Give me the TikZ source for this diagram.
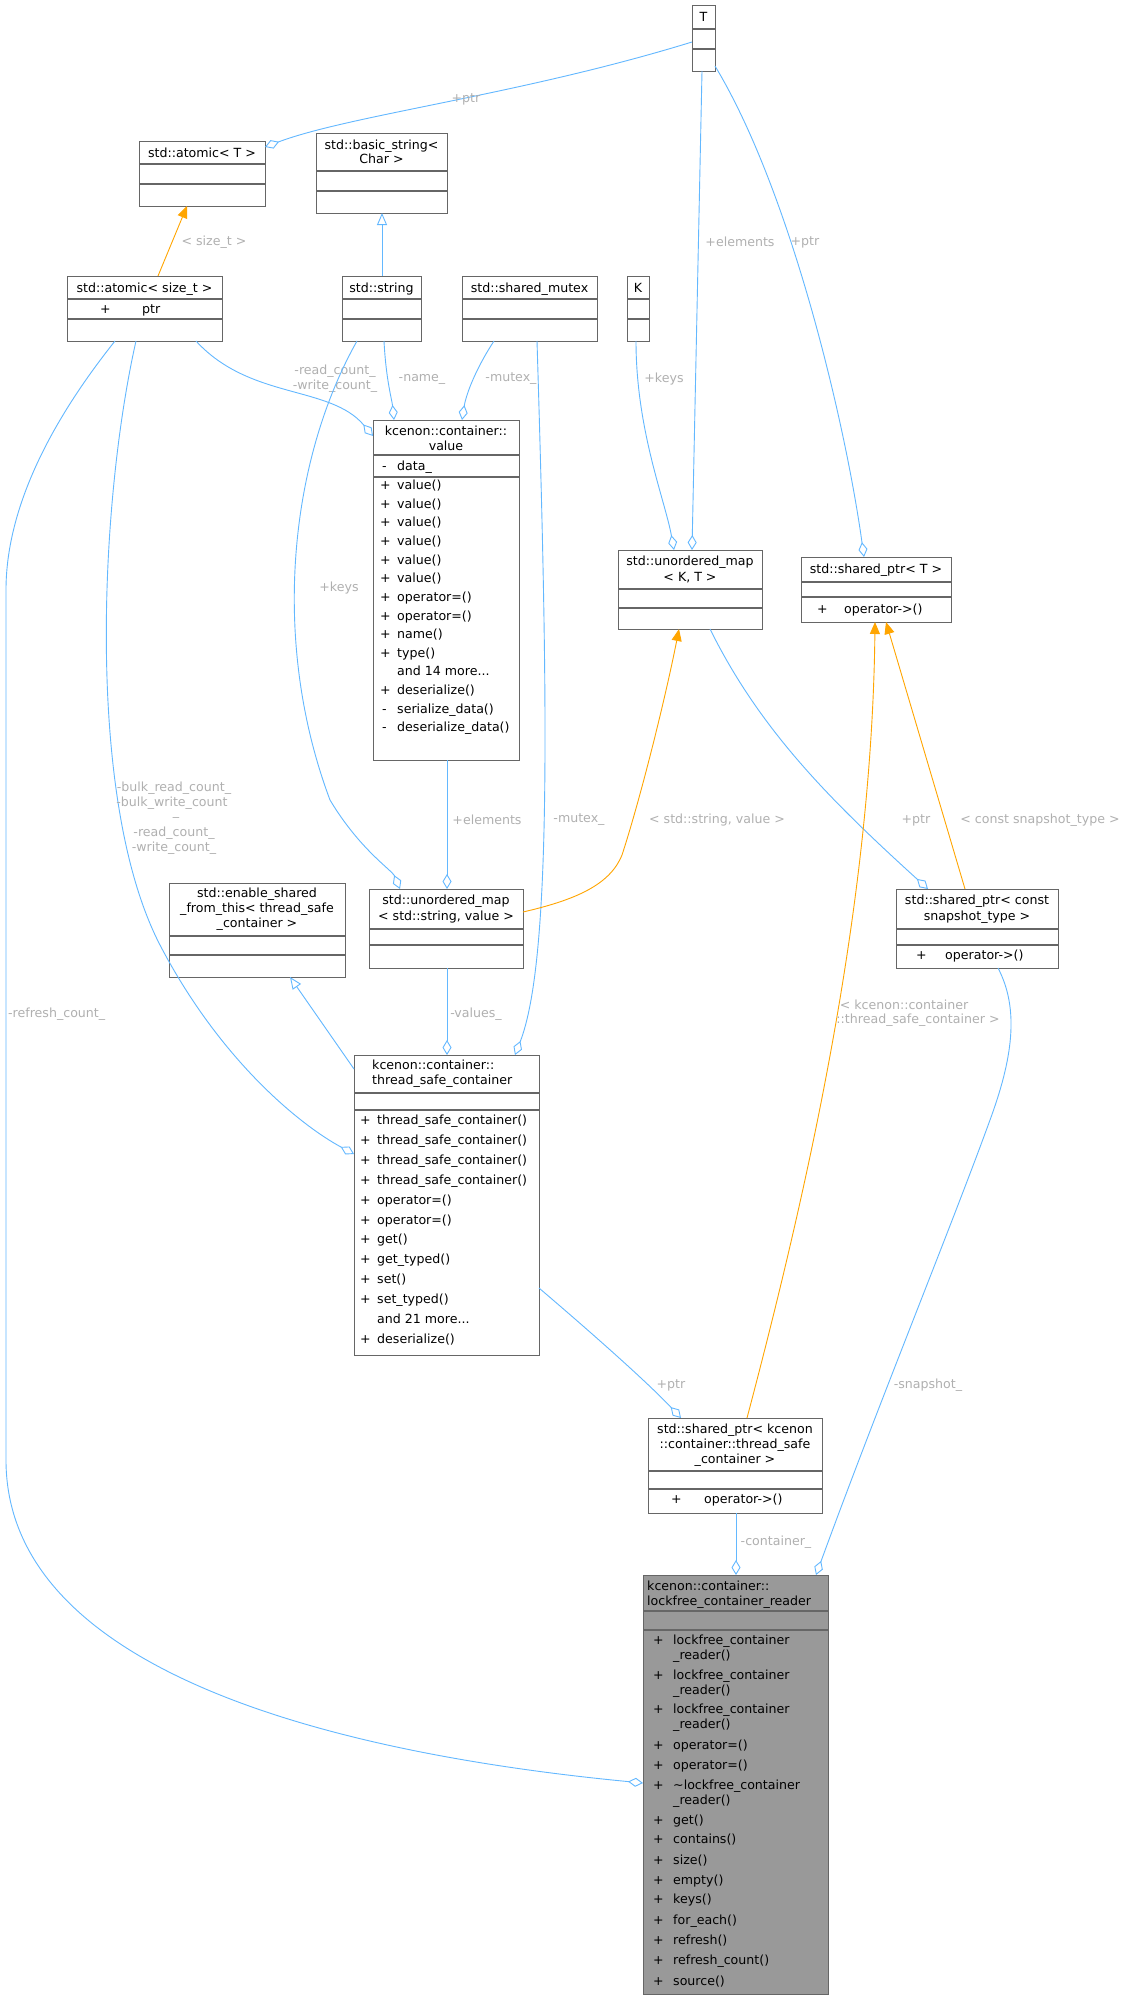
\documentclass[tikz,border=0pt]{standalone}
\usepackage{fontspec}
\setmainfont{DejaVu Sans}
\usetikzlibrary{arrows.meta,calc}
\definecolor{eblue}{HTML}{63B8FF}
\definecolor{eorange}{HTML}{FFA500}
\definecolor{bline}{HTML}{666666}
\definecolor{lgray}{HTML}{B0B0B0}
\definecolor{rfill}{HTML}{999999}
\newcommand\umlBox[6]{\node[ubox,fill=#6,anchor=north west,minimum width={#4-#2},minimum height={#5-#3}] (#1) at (#2,#3) {};}
\newcommand\mySep[3]{\draw[sepl] (#1,#3) -- (#2,#3);}
\newcommand\myTC[3]{\node[txt,anchor=base] at (#1,#2+4.5) {#3};}
\newcommand\myTL[3]{\node[txt,anchor=base west] at (#1,#2+4.5) {#3};}
\newcommand\myMem[5]{\node[txt,anchor=base west] at (#1,#3+4.5) {#4};\node[txt,anchor=base west] at (#2,#3+4.5) {#5};}
\begin{document}
\begin{tikzpicture}[x=1pt,y=-1pt,
  ubox/.style={draw=bline,line width=1.1pt,rectangle,inner sep=0pt},
  sepl/.style={draw=bline,line width=1.1pt},
  txt/.style={inner sep=0pt,font=\fontsize{12.6}{15}\selectfont},
  lab/.style={inner sep=0pt,text=lgray,align=center,font=\fontsize{12.6}{15}\selectfont},
  agg/.style={draw=eblue,line width=0.9pt,-{Diamond[open,length=15pt,width=9pt,line width=0.9pt]}},
  inh/.style={draw=eblue,line width=0.9pt,-{Triangle[open,length=12pt,width=10pt,line width=0.9pt]}},
  tpl/.style={draw=eorange,line width=0.9pt,-{Triangle[length=12pt,width=10pt]}}]
\useasboundingbox[fill=white] (0,0) rectangle (1124,1996);
% boxes
\umlBox{T}{692}{5}{715}{71}{white}
\umlBox{atT}{139}{141}{265}{206}{white}
\umlBox{bstr}{316}{133}{447}{213}{white}
\umlBox{atS}{67}{276}{222}{341}{white}
\umlBox{str}{342}{276}{421}{341}{white}
\umlBox{mtx}{462}{276}{597}{341}{white}
\umlBox{K}{627}{276}{649}{341}{white}
\umlBox{val}{373}{420}{519}{760}{white}
\umlBox{umKT}{618}{550}{762}{629}{white}
\umlBox{spT}{801}{557}{951}{622}{white}
\umlBox{esft}{169}{883}{345}{977}{white}
\umlBox{umSV}{369}{889}{523}{968}{white}
\umlBox{spC}{896}{889}{1058}{968}{white}
\umlBox{tsc}{354}{1055}{539}{1355}{white}
\umlBox{spK}{648}{1418}{822}{1513}{white}
\umlBox{lfr}{643}{1575}{828}{1994}{rfill}
% T
\myTC{703.5}{17}{T}\mySep{692}{715}{29}\mySep{692}{715}{49}
% atomic<T>
\myTC{202}{153}{std::atomic< T >}\mySep{139}{265}{164}\mySep{139}{265}{184}
% basic_string
\myTC{381.5}{145}{std::basic\_string<}\myTC{381.5}{159}{Char >}\mySep{316}{447}{171}\mySep{316}{447}{191}
% atomic<size_t>
\myTC{144.5}{288}{std::atomic< size\_t >}\mySep{67}{222}{299}\mySep{67}{222}{319}
\myMem{100}{142}{309}{+}{ptr}
% string, mutex, K
\myTC{381.5}{288}{std::string}\mySep{342}{421}{299}\mySep{342}{421}{319}
\myTC{529.5}{288}{std::shared\_mutex}\mySep{462}{597}{299}\mySep{462}{597}{319}
\myTC{638}{288}{K}\mySep{627}{649}{299}\mySep{627}{649}{319}
% value
\myTC{446}{431}{kcenon::container::}\myTC{446}{446}{value}
\mySep{373}{519}{455}\mySep{373}{519}{477}
\myMem{382}{397}{466}{-}{data\_}
\myMem{380}{397}{485}{+}{value()}
\myMem{380}{397}{503.6}{+}{value()}
\myMem{380}{397}{522.3}{+}{value()}
\myMem{380}{397}{540.9}{+}{value()}
\myMem{380}{397}{559.6}{+}{value()}
\myMem{380}{397}{578.2}{+}{value()}
\myMem{380}{397}{596.8}{+}{operator=()}
\myMem{380}{397}{615.5}{+}{operator=()}
\myMem{380}{397}{634.1}{+}{name()}
\myMem{380}{397}{652.8}{+}{type()}
\myMem{380}{397}{671.4}{}{and 14 more...}
\myMem{380}{397}{690}{+}{deserialize()}
\myMem{382}{397}{708.7}{-}{serialize\_data()}
\myMem{382}{397}{727.3}{-}{deserialize\_data()}
% unordered_map<K,T>
\myTC{690}{561}{std::unordered\_map}\myTC{690}{577}{< K, T >}\mySep{618}{762}{589}\mySep{618}{762}{608}
% shared_ptr<T>
\myTC{876}{569}{std::shared\_ptr< T >}\mySep{801}{951}{582}\mySep{801}{951}{597}
\myMem{817}{844}{609}{+}{operator->()}
% enable_shared
\myTC{257}{893}{std::enable\_shared}\myTC{257}{908}{\_from\_this< thread\_safe}\myTC{257}{923}{\_container >}
\mySep{169}{345}{936}\mySep{169}{345}{955}
% unordered_map<string,value>
\myTC{446}{900}{std::unordered\_map}\myTC{446}{916}{< std::string, value >}\mySep{369}{523}{929}\mySep{369}{523}{945}
% shared_ptr<const>
\myTC{977}{900}{std::shared\_ptr< const}\myTC{977}{916}{snapshot\_type >}\mySep{896}{1058}{929}\mySep{896}{1058}{945}
\myMem{916}{945}{955}{+}{operator->()}
% thread_safe_container
\myTL{372}{1065}{kcenon::container::}\myTL{372}{1080}{thread\_safe\_container}
\mySep{354}{539}{1093}\mySep{354}{539}{1110}
\myMem{360}{377}{1120}{+}{thread\_safe\_container()}
\myMem{360}{377}{1139.9}{+}{thread\_safe\_container()}
\myMem{360}{377}{1159.8}{+}{thread\_safe\_container()}
\myMem{360}{377}{1179.7}{+}{thread\_safe\_container()}
\myMem{360}{377}{1199.6}{+}{operator=()}
\myMem{360}{377}{1219.5}{+}{operator=()}
\myMem{360}{377}{1239.4}{+}{get()}
\myMem{360}{377}{1259.3}{+}{get\_typed()}
\myMem{360}{377}{1279.2}{+}{set()}
\myMem{360}{377}{1299.1}{+}{set\_typed()}
\myMem{360}{377}{1319}{}{and 21 more...}
\myMem{360}{377}{1338.9}{+}{deserialize()}
% shared_ptr<kcenon>
\myTC{735}{1429}{std::shared\_ptr< kcenon}\myTC{735}{1444}{::container::thread\_safe}\myTC{735}{1459}{\_container >}
\mySep{648}{822}{1471}\mySep{648}{822}{1489}
\myMem{671}{704}{1499}{+}{operator->()}
% lockfree reader
\myTL{647}{1586}{kcenon::container::}\myTL{647}{1601}{lockfree\_container\_reader}
\mySep{643}{828}{1611}\mySep{643}{828}{1630}
\myMem{653}{673}{1640}{+}{lockfree\_container}\myTL{673}{1655}{\_reader()}
\myMem{653}{673}{1675}{+}{lockfree\_container}\myTL{673}{1690}{\_reader()}
\myMem{653}{673}{1709}{+}{lockfree\_container}\myTL{673}{1724}{\_reader()}
\myMem{653}{673}{1745}{+}{operator=()}
\myMem{653}{673}{1765}{+}{operator=()}
\myMem{653}{673}{1785}{+}{\textasciitilde lockfree\_container}\myTL{673}{1800}{\_reader()}
\myMem{653}{673}{1820}{+}{get()}
\myMem{653}{673}{1839}{+}{contains()}
\myMem{653}{673}{1860}{+}{size()}
\myMem{653}{673}{1880}{+}{empty()}
\myMem{653}{673}{1899}{+}{keys()}
\myMem{653}{673}{1920}{+}{for\_each()}
\myMem{653}{673}{1940}{+}{refresh()}
\myMem{653}{673}{1960}{+}{refresh\_count()}
\myMem{653}{673}{1981}{+}{source()}
% edges
\draw[agg] ($(T.north west)+(0,37)$) .. controls (520,95) and (350,115) .. ($(atT.north west)+(126,6)$);
\node[lab] at (466,99) {+ptr};
\draw[tpl] ($(atS.north west)+(91,0)$) -- ($(atT.north west)+(48,65)$);
\node[lab] at (214,242) {< size\_t >};
\draw[inh] ($(str.north west)+(40,0)$) -- ($(bstr.north west)+(66,80)$);
\draw[agg] ($(atS.north west)+(129,65)$) .. controls (250,400) and (330,385) .. ($(val.north west)+(0,16)$);
\node[lab] at (335,379) {-read\_count\_\\-write\_count\_};
\draw[agg] ($(str.north west)+(42,65)$) .. controls (386,380) and (392,400) .. ($(val.north west)+(21,0)$);
\node[lab] at (422,379) {-name\_};
\draw[agg] ($(mtx.north west)+(32,65)$) .. controls (475,370) and (466,395) .. ($(val.north west)+(89,0)$);
\node[lab] at (511,379) {-mutex\_};
\draw[agg] ($(K.north west)+(9,65)$) .. controls (636,430) and (665,500) .. ($(umKT.north west)+(56,0)$);
\node[lab] at (664,379) {+keys};
\draw[agg] ($(T.north west)+(10,66)$) -- ($(umKT.north west)+(74,0)$);
\node[lab] at (740,242) {+elements};
\draw[agg] ($(T.north west)+(23,61)$) .. controls (790,190) and (845,420) .. ($(spT.north west)+(63,0)$);
\node[lab] at (805,242) {+ptr};
\draw[agg] ($(atS.north west)+(48,65)$) .. controls (60,410) and (6,500) .. (6,590) -- (6,1460) .. controls (6,1660) and (300,1750) .. ($(lfr.north west)+(0,208)$);
\node[lab,anchor=west] at (8,1014) {-refresh\_count\_};
\draw[agg] ($(atS.north west)+(69,65)$) .. controls (100,500) and (85,800) .. (160,945) .. controls (220,1060) and (300,1125) .. ($(tsc.north west)+(0,99)$);
\node[lab] at (174,788) {-bulk\_read\_count\_};
\node[lab] at (172,803) {-bulk\_write\_count};
\node[lab] at (176,817) {\_};
\node[lab] at (174,833) {-read\_count\_};
\node[lab] at (174,848) {-write\_count\_};
\draw[agg] ($(str.north west)+(15,65)$) .. controls (290,460) and (270,640) .. (330,800) .. controls (360,850) and (392,870) .. ($(umSV.north west)+(31,0)$);
\node[lab] at (339,588) {+keys};
\draw[agg] ($(val.north west)+(74,340)$) -- ($(umSV.north west)+(78,0)$);
\node[lab] at (487,820) {+elements};
\draw[agg] ($(mtx.north west)+(75,65)$) .. controls (548,700) and (552,960) .. ($(tsc.north west)+(161,0)$);
\node[lab] at (579,820) {-mutex\_};
\draw[tpl] ($(umSV.north west)+(154,23)$) .. controls (575,900) and (610,885) .. (622,855) .. controls (640,800) and (665,700) .. ($(umKT.north west)+(61,79)$);
\node[lab] at (717,820) {< std::string, value >};
\draw[agg] ($(umKT.north west)+(92,79)$) .. controls (760,730) and (830,800) .. ($(spC.north west)+(32,0)$);
\node[lab] at (916,820) {+ptr};
\draw[tpl] ($(spC.north west)+(69,0)$) -- ($(spT.north west)+(85,65)$);
\node[lab] at (1040,820) {< const snapshot\_type >};
\draw[tpl] ($(spK.north west)+(99,0)$) .. controls (810,1180) and (872,900) .. ($(spT.north west)+(74,65)$);
\node[lab] at (904,1005) {< kcenon::container};
\node[lab] at (918,1020) {::thread\_safe\_container >};
\draw[inh] ($(tsc.north west)+(0,14)$) -- ($(esft.north west)+(121,94)$);
\draw[agg] ($(umSV.north west)+(78,79)$) -- ($(tsc.north west)+(93,0)$);
\node[lab] at (476,1014) {-values\_};
\draw[agg] ($(tsc.north west)+(185,233)$) .. controls (600,1340) and (650,1385) .. ($(spK.north west)+(33,0)$);
\node[lab] at (671,1385) {+ptr};
\draw[agg] ($(spK.north west)+(88,95)$) -- ($(lfr.north west)+(93,0)$);
\node[lab] at (776,1542) {-container\_};
\draw[agg] ($(spC.north west)+(102,79)$) .. controls (1020,1010) and (1012,1060) .. (990,1120) .. controls (950,1230) and (880,1400) .. ($(lfr.north west)+(173,0)$);
\node[lab] at (928,1385) {-snapshot\_};
\end{tikzpicture}
\end{document}
